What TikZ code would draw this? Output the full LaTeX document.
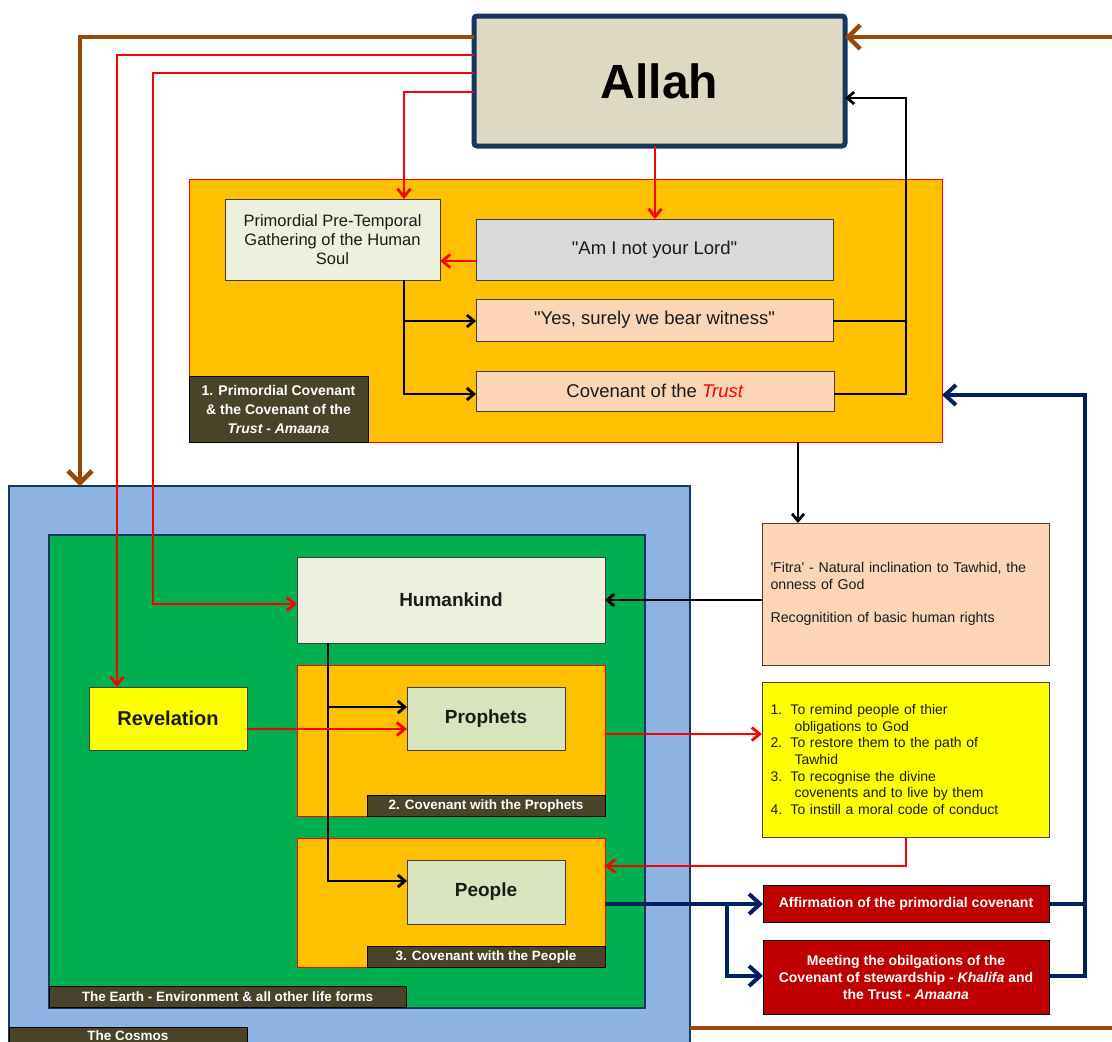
\documentclass[tikz,border=0pt]{standalone}
\usepackage{fontspec}
\setmainfont{Liberation Sans}
\usetikzlibrary{arrows.meta}
\definecolor{allahfill}{HTML}{DDD9C3}
\definecolor{boxnavy}{HTML}{17375E}
\definecolor{orng}{HTML}{FFC000}
\definecolor{lightg}{HTML}{EBF1DE}
\definecolor{grayb}{HTML}{D9D9D9}
\definecolor{peach}{HTML}{FCD5B4}
\definecolor{lblfill}{HTML}{494429}
\definecolor{cosmosc}{HTML}{8EB4E3}
\definecolor{greenc}{HTML}{00B050}
\definecolor{prophf}{HTML}{D7E4BD}
\definecolor{yel}{HTML}{FFFF00}
\definecolor{darkred}{HTML}{C00000}
\definecolor{navyc}{HTML}{002060}
\definecolor{brownc}{HTML}{984807}
\definecolor{redc}{HTML}{FF0000}
\definecolor{edgec}{HTML}{404040}
\definecolor{txt}{HTML}{1A1A1A}
\begin{document}
\begin{tikzpicture}[x=1pt,y=-1pt,
  box/.style={draw=edgec, line width=1pt, inner sep=0pt, outer sep=0pt, anchor=north west, align=center, text=txt},
  lbl/.style={box, fill=lblfill, draw=black, text=white, font=\fontsize{13.5}{15}\selectfont\bfseries},
  orangebox/.style={box, fill=orng, draw=redc, line width=0.8pt},
  bigbox/.style={box, draw=boxnavy, line width=2pt},
  quote/.style={box, font=\fontsize{18.5}{22}\selectfont},
  mainb/.style={box, font=\fontsize{19}{22}\selectfont\bfseries},
  redbox/.style={box, fill=darkred, draw=black, text=white, font=\fontsize{14}{17}\selectfont\bfseries},
  redarr/.style={draw=redc, line width=2.8pt, -{Straight Barb[length=8pt,width=13pt]}},
  blkarr/.style={draw=black, line width=2.8pt, -{Straight Barb[length=7pt,width=12pt]}},
  blkline/.style={draw=black, line width=2.8pt},
  navyarr/.style={draw=navyc, line width=4pt, -{Straight Barb[length=11pt,width=20pt]}},
  navyline/.style={draw=navyc, line width=4pt},
  brownarr/.style={draw=brownc, line width=4.5pt, -{Straight Barb[length=12pt,width=24pt]}},
  brownline/.style={draw=brownc, line width=4.5pt}
]
\useasboundingbox (0,0) rectangle (1112,1042);
\begin{scope}
\clip (0,0) rectangle (1112,1042);
% Cosmos and Earth
\node[bigbox, fill=cosmosc, minimum width=681pt, minimum height=580pt] (cosmos) at (9,486) {};
\node[bigbox, fill=greenc, minimum width=596pt, minimum height=473pt] (earth) at (49,535) {};
\node[lbl, minimum width=238pt, minimum height=28pt, anchor=north west] (cosmoslbl) at (9,1027) {\raisebox{10.5pt}{The Cosmos}};
\node[lbl, minimum width=357pt, minimum height=21pt] (earthlbl) at (49,986) {The Earth - Environment \& all other life forms};
% Humankind and covenants
\node[mainb, fill=lightg, minimum width=308pt, minimum height=86pt] (human) at (297,557) {Humankind};
\node[orangebox, minimum width=308pt, minimum height=151pt] (pcov) at (297,665) {};
\node[lbl, minimum width=238pt, minimum height=21pt] (pcovlbl) at (367,795) {2. Covenant with the Prophets};
\node[mainb, fill=prophf, minimum width=158pt, minimum height=63pt] (proph) at (407,687) {Prophets};
\node[orangebox, minimum width=308pt, minimum height=129pt] (ppcov) at (297,838) {};
\node[lbl, minimum width=238pt, minimum height=21pt] (ppcovlbl) at (367,946) {3. Covenant with the People};
\node[mainb, fill=prophf, minimum width=158pt, minimum height=64pt] (people) at (407,860) {People};
\node[box, fill=yel, minimum width=158pt, minimum height=63pt, font=\fontsize{20}{22}\selectfont\bfseries] (rev) at (89,687) {Revelation};
% Primordial covenant
\node[orangebox, minimum width=753pt, minimum height=263pt] (prim) at (189,179) {};
\node[box, fill=lightg, minimum width=215pt, minimum height=81pt, font=\fontsize{16.5}{19}\selectfont] (gath) at (225,199) {Primordial Pre-Temporal\\Gathering of the Human\\Soul};
\node[quote, fill=grayb, minimum width=357pt, minimum height=61pt] (ami) at (476,219) {\textquotedbl Am I not your Lord\textquotedbl};
\node[quote, fill=peach, minimum width=357pt, minimum height=42pt] (yes) at (476,299) {\textquotedbl Yes, surely we bear witness\textquotedbl};
\node[quote, fill=peach, minimum width=358pt, minimum height=40pt] (cov) at (476,371) {Covenant of the \textcolor{redc}{\textit{Trust}}};
\node[lbl, minimum width=179pt, minimum height=66pt, font=\fontsize{14}{19}\selectfont\bfseries] (primlbl) at (189,376) {1. Primordial Covenant\\\& the Covenant of the\\\textit{Trust - Amaana}};
% Allah
\node[box, draw=boxnavy, line width=5pt, rounded corners=3pt, fill=allahfill, minimum width=371pt, minimum height=130pt, font=\fontsize{48}{56}\selectfont\bfseries, text=black] (allah) at (474,16) {Allah};
% Right column
\node[box, fill=peach, minimum width=287pt, minimum height=142pt, text width=270pt, align=left, font=\fontsize{14.2}{16.5}\selectfont] (fitra) at (762,523) {\textquotesingle Fitra\textquotesingle\ - Natural inclination to Tawhid, the\\onness of God\\[16.5pt]Recognitition of basic human rights};
\node[box, fill=yel, minimum width=287pt, minimum height=155pt, text width=270pt, align=left, font=\fontsize{14}{16.7}\selectfont] (list) at (762,682) {\makebox[20pt][l]{1.}To remind people of thier\\
\hspace*{24pt}obligations to God\\
\makebox[20pt][l]{2.}To restore them to the path of\\
\hspace*{24pt}Tawhid\\
\makebox[20pt][l]{3.}To recognise the divine\\
\hspace*{24pt}covenents and to live by them\\
\makebox[20pt][l]{4.}To instill a moral code of conduct};
\node[redbox, minimum width=286pt, minimum height=37pt] (aff) at (763,885) {Affirmation of the primordial covenant};
\node[redbox, minimum width=286pt, minimum height=74pt] (meet) at (763,940) {Meeting the obilgations of the\\Covenant of stewardship - \textit{Khalifa} and\\the Trust - \textit{Amaana}};
% free ends
\coordinate (brR) at (1112,37);
\coordinate (brB) at (1112,1028);
\coordinate (navyfork) at (727,904);
\coordinate (hfork) at (328,707);
% Brown
\draw[brownarr] (allah.west |- 0,37) -| (cosmos.north -| 80,0);
\draw[brownarr] (brR) -- (allah.east |- brR);
\draw[brownline] (cosmos.east |- brB) -- (brB);
% Red from Allah
\draw[redarr] (allah.west |- 0,55) -| (rev.north -| 117,0);
\draw[redarr] (allah.west |- 0,73) -| (153,604) -- (human.west |- 0,604);
\draw[redarr] (allah.west |- 0,92) -| (gath.north -| 404,0);
\draw[redarr] (allah.south -| 655,0) -- (ami.north -| 655,0);
\draw[redarr] (ami.west |- 0,261) -- (gath.east |- 0,261);
% Black in primordial
\draw[blkarr] (gath.south -| 404,0) |- (yes.west |- 0,321);
\draw[blkarr] (gath.south -| 404,0) |- (cov.west |- 0,394);
\draw[blkline] (yes.east |- 0,321) -- (906,321);
\draw[blkarr] (cov.east |- 0,394) -| (906,98) -- (allah.east |- 0,98);
\draw[blkarr] (prim.south -| 798,0) -- (fitra.north -| 798,0);
\draw[blkarr] (fitra.west |- 0,600) -- (human.east |- 0,600);
% Humankind branches
\draw[blkarr] (human.south -| hfork) -- (hfork) -- (proph.west |- hfork);
\draw[blkarr] (human.south -| hfork) |- (people.west |- 0,881);
\draw[redarr] (rev.east |- 0,729) -- (proph.west |- 0,729);
% Prophets and list
\draw[redarr] (pcov.east |- 0,734) -- (list.west |- 0,734);
\draw[redarr] (list.south -| 906,0) |- (ppcov.east |- 0,866);
% Navy
\draw[navyarr] (ppcov.east |- navyfork) -- (aff.west |- navyfork);
\draw[navyarr] (navyfork) |- (meet.west |- 0,976);
\draw[navyline] (aff.east |- 0,904) -- (1085,904);
\draw[navyarr] (meet.east |- 0,976) -| (1085,395) -- (prim.east |- 0,395);
\end{scope}
\end{tikzpicture}
\end{document}
